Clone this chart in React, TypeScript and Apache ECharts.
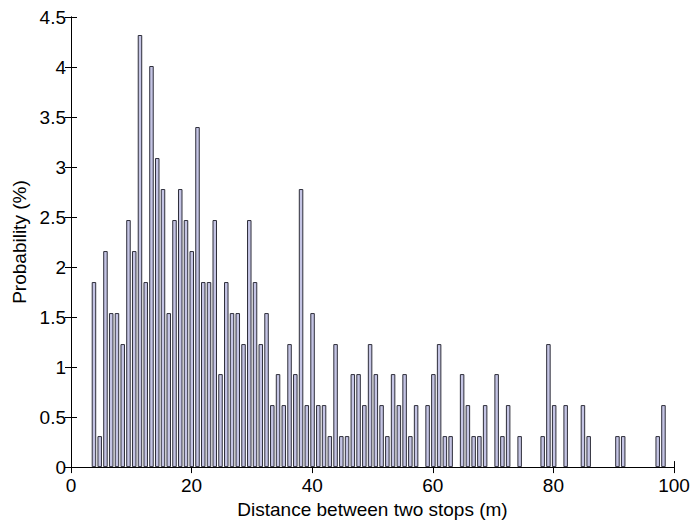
import React, { useEffect, useRef } from "react";
import * as echarts from "echarts";

// Histogram: 100 bins, first bin starts at binStart, each bin binWidth wide (metres)
const binStart = 3.33;
const binWidth = 0.954;

// Probability (%) of each bin
const probabilities: number[] = [
  1.85, 0.31, 2.16, 1.54, 1.54, 1.23, 2.47, 2.16, 4.32, 1.85,
  4.01, 3.09, 2.78, 1.54, 2.47, 2.78, 2.47, 2.16, 3.40, 1.85,
  1.85, 2.47, 0.93, 1.85, 1.54, 1.54, 1.23, 2.47, 1.85, 1.23,
  1.54, 0.62, 0.93, 0.62, 1.23, 0.93, 2.78, 0.62, 1.54, 0.62,
  0.62, 0.31, 1.23, 0.31, 0.31, 0.93, 0.93, 0.62, 1.23, 0.93,
  0.62, 0.31, 0.93, 0.62, 0.93, 0.31, 0.62, 0, 0.62, 0.93,
  1.23, 0.31, 0.31, 0, 0.93, 0.62, 0.31, 0.31, 0.62, 0,
  0.93, 0.31, 0.62, 0, 0.31, 0, 0, 0, 0.31, 1.23,
  0.62, 0, 0.62, 0, 0, 0.62, 0.31, 0, 0, 0,
  0, 0.31, 0.31, 0, 0, 0, 0, 0, 0.31, 0.62,
];

const xTicks = { min: 0, max: 100, interval: 20 };
const yTicks = { min: 0, max: 4.5, interval: 0.5 };
const xTitle = "Distance between two stops (m)";
const yTitle = "Probability (%)";

const FONT = "'Liberation Sans', Arial, Helvetica, sans-serif";

export default function App() {
  const ref = useRef<HTMLDivElement>(null);
  useEffect(() => {
    if (!ref.current) return;
    const chart = echarts.init(ref.current, undefined, { renderer: "svg" });
    const data = probabilities.map((p, i) => [binStart + (i + 0.5) * binWidth, p === 0 ? "-" : p]);
    const axisLine = { show: true, lineStyle: { color: "#000", width: 1 } };
    const tick = { show: true, inside: true, length: 6, lineStyle: { color: "#000", width: 1 } };
    const label = { color: "#000", fontSize: 19, fontFamily: FONT };
    chart.setOption({
      animation: false,
      backgroundColor: "#fff",
      grid: { left: 71, right: 19, top: 17, bottom: 55, containLabel: false },
      xAxis: [
        {
          type: "value",
          ...xTicks,
          position: "bottom",
          axisLine,
          axisTick: tick,
          axisLabel: { ...label, margin: 9 },
          splitLine: { show: false },
          name: xTitle,
          nameLocation: "middle",
          nameGap: 31,
          nameTextStyle: { color: "#000", fontSize: 19, fontFamily: FONT },
        },
        {
          type: "value",
          ...xTicks,
          position: "top",
          axisLine,
          axisTick: tick,
          axisLabel: { show: false },
          splitLine: { show: false },
        },
      ],
      yAxis: [
        {
          type: "value",
          ...yTicks,
          position: "left",
          axisLine,
          axisTick: tick,
          axisLabel: { ...label, margin: 5 },
          splitLine: { show: false },
          name: yTitle,
          nameLocation: "middle",
          nameGap: 38,
          nameRotate: 90,
          nameTextStyle: { color: "#000", fontSize: 19, fontFamily: FONT },
        },
        {
          type: "value",
          ...yTicks,
          position: "right",
          axisLine,
          axisTick: tick,
          axisLabel: { show: false },
          splitLine: { show: false },
        },
      ],
      series: [
        {
          type: "bar",
          xAxisIndex: 0,
          yAxisIndex: 0,
          data,
          barWidth: 4.5,
          itemStyle: { color: "#c4c4e4", borderColor: "#2e2e3a", borderWidth: 1 },
        },
      ],
    });
    return () => chart.dispose();
  }, []);
  return (
    <div
      ref={ref}
      style={{ position: "fixed", left: 0, top: 0, width: 693, height: 524, background: "#fff" }}
    />
  );
}
